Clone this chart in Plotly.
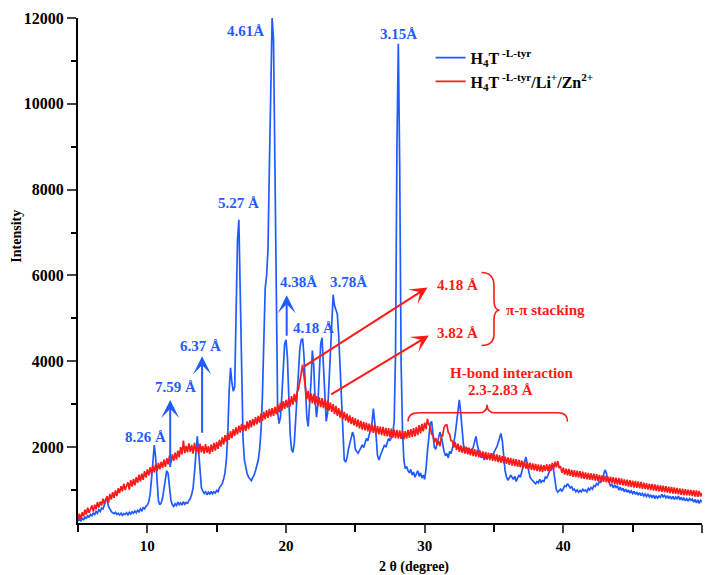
import plotly.graph_objects as go

# ---------------- data ----------------
# 2θ sampling grid of the diffractometer (0.1° steps from 5° to 50°)
two_theta = [round(5 + 0.1 * i, 1) for i in range(451)]

# H4T-L-tyr (blue), one row per degree: N.0 ... N.9
blue_y = [
    280, 330, 270, 350, 300, 380, 330, 410, 360, 430,          # 5
    400, 470, 420, 500, 460, 540, 500, 580, 560, 650,          # 6
    800, 760, 620, 540, 500, 470, 450, 480, 430, 460,          # 7
    420, 460, 410, 450, 430, 470, 420, 480, 440, 490,          # 8
    460, 510, 470, 530, 490, 560, 520, 590, 560, 620,          # 9
    650, 720, 900, 1250, 1700, 2050, 1750, 1100, 750, 660,     # 10
    700, 820, 1050, 1300, 1450, 1380, 1050, 760, 660, 620,     # 11
    680, 640, 720, 660, 700, 650, 730, 670, 710, 690,          # 12
    760, 800, 900, 1050, 1400, 1900, 2250, 1900, 1350, 1050,   # 13
    980, 920, 960, 890, 950, 900, 970, 910, 960, 930,          # 14
    990, 960, 1050, 1100, 1150, 1250, 1400, 1700, 2300, 3300,  # 15
    3850, 3500, 3300, 3400, 4800, 6800, 7300, 5500, 3300, 2200,  # 16
    1700, 1500, 1380, 1300, 1250, 1220, 1290, 1350, 1450, 1550,  # 17
    1700, 1950, 2400, 3200, 4500, 5700, 6000, 6600, 8500, 10500,  # 18
    12000, 11500, 8000, 4500, 2800, 2550, 2700, 3200, 3800, 4400,  # 19
    4500, 4100, 3200, 2300, 1950, 1880, 2100, 2700, 3400, 4000,  # 20
    4300, 4500, 4530, 4100, 3300, 2700, 2480, 2900, 3500, 4250,  # 21
    3900, 3100, 2700, 3000, 3800, 4400, 4550, 3900, 3000, 2600,  # 22
    2800, 3500, 4300, 5000, 5550, 5300, 5200, 5100, 4600, 3800,  # 23
    2900, 2200, 1700, 1650, 1750, 1950, 2100, 2200, 2350, 2250,  # 24
    1950, 1900, 1860, 1920, 2000, 2050, 1990, 2100, 2200, 2150,  # 25
    2300, 2400, 2550, 2900, 2600, 2250, 1800, 1700, 1800, 1900,  # 26
    1950, 2050, 2000, 2100, 2200, 2150, 2250, 2300, 2600, 4200,  # 27
    9000, 11400, 8500, 4000, 2400, 1700, 1500, 1550, 1450, 1400,  # 28
    1480, 1350, 1420, 1300, 1380, 1450, 1320, 1400, 1280, 1350,  # 29
    1250, 1500, 1900, 2300, 2550, 2600, 2300, 2000, 1950, 2100,  # 30
    2200, 2350, 2250, 2050, 1900, 1800, 1850, 1750, 1900, 1850,  # 31
    1950, 2100, 2300, 2600, 2950, 3100, 2800, 2300, 2050, 1950,  # 32
    1900, 1980, 1850, 1950, 1880, 2000, 2150, 2250, 2050, 1900,  # 33
    1800, 1750, 1820, 1700, 1780, 1720, 1800, 1750, 1850, 1800,  # 34
    1900, 1950, 2000, 2100, 2200, 2320, 2150, 1800, 1450, 1300,  # 35
    1230, 1280, 1350, 1300, 1250, 1320, 1200, 1280, 1350, 1300,  # 36
    1450, 1550, 1650, 1770, 1600, 1450, 1300, 1250, 1200, 1180,  # 37
    1150, 1200, 1170, 1250, 1180, 1220, 1200, 1300, 1280, 1350,  # 38
    1400, 1480, 1580, 1450, 1200, 1000, 950, 980, 1020, 970,     # 39
    1050, 1100, 1080, 1150, 1100, 1050, 1080, 1000, 1020, 960,   # 40
    1000, 950, 990, 960, 1020, 980, 1000, 960, 1040, 1000,       # 41
    1060, 1020, 1100, 1080, 1150, 1120, 1200, 1180, 1280, 1350,  # 42
    1470, 1400, 1250, 1150, 1100, 1130, 1050, 1120, 1060, 1100,  # 43
    1000, 1070, 990, 1040, 960, 1020, 950, 1000, 930, 980,       # 44
    920, 970, 900, 950, 880, 940, 870, 920, 860, 910,            # 45
    850, 900, 840, 890, 820, 880, 800, 870, 810, 860,            # 46
    830, 900, 840, 880, 820, 870, 800, 860, 790, 850,            # 47
    780, 840, 800, 860, 770, 830, 760, 820, 750, 800,            # 48
    740, 800, 760, 790, 720, 780, 700, 770, 690, 760,            # 49
    720,                                                         # 50
]

# H4T-L-tyr/Li+/Zn2+ (red)
red_y = [
    330, 450, 320, 480, 390, 540, 430, 590, 470, 560,            # 5
    640, 500, 660, 550, 720, 590, 730, 640, 800, 680,            # 6
    790, 860, 700, 910, 780, 950, 820, 990, 860, 1040,           # 7
    930, 1090, 970, 1150, 1000, 1120, 1180, 1010, 1230, 1080,    # 8
    1260, 1110, 1300, 1170, 1360, 1200, 1380, 1240, 1440, 1290,  # 9
    1480, 1340, 1530, 1380, 1570, 1410, 1600, 1440, 1630, 1480,  # 10
    1660, 1510, 1710, 1540, 1740, 1600, 1800, 1630, 1830, 1680,  # 11
    1870, 1710, 1920, 1760, 2000, 1830, 2150, 1860, 2030, 1880,  # 12
    2090, 1890, 2050, 1850, 2100, 1900, 2030, 1840, 2080, 1880,  # 13
    2030, 1850, 2070, 1870, 2020, 1840, 2060, 1890, 2100, 1920,  # 14
    2120, 1960, 2170, 2010, 2230, 2060, 2280, 2120, 2330, 2170,  # 15
    2370, 2210, 2420, 2260, 2460, 2300, 2500, 2340, 2540, 2370,  # 16
    2520, 2380, 2600, 2420, 2630, 2460, 2660, 2500, 2700, 2530,  # 17
    2730, 2570, 2780, 2610, 2820, 2650, 2860, 2680, 2890, 2710,  # 18
    2910, 2730, 2940, 2770, 3000, 2810, 3030, 2850, 3070, 2890,  # 19
    3100, 2920, 3140, 2950, 3190, 2990, 3240, 3050, 3290, 3350,  # 20
    3550, 3750, 3920, 3650, 3330, 3120, 3310, 3050, 3250, 3020,  # 21
    3240, 2990, 3190, 2960, 3160, 2930, 3140, 2910, 3120, 2870,  # 22
    3090, 2850, 3040, 2820, 3000, 2770, 2960, 2730, 2910, 2690,  # 23
    2870, 2650, 2820, 2620, 2780, 2570, 2740, 2540, 2700, 2510,  # 24
    2670, 2470, 2640, 2440, 2610, 2410, 2590, 2390, 2570, 2370,  # 25
    2550, 2350, 2530, 2330, 2510, 2310, 2490, 2300, 2480, 2280,  # 26
    2470, 2260, 2450, 2250, 2440, 2230, 2430, 2220, 2410, 2210,  # 27
    2400, 2200, 2390, 2190, 2380, 2180, 2370, 2200, 2400, 2220,  # 28
    2420, 2240, 2440, 2250, 2470, 2280, 2510, 2320, 2540, 2370,  # 29
    2570, 2420, 2660, 2530, 2480, 2300, 2280, 2120, 2210, 2050,  # 30
    2140, 2020, 2240, 2270, 2460, 2510, 2520, 2350, 2300, 2150,  # 31
    2140, 1990, 2120, 1930, 2080, 1890, 2040, 1870, 2020, 1850,  # 32
    2010, 1830, 1990, 1810, 1970, 1790, 1950, 1780, 1940, 1760,  # 33
    1920, 1750, 1900, 1730, 1890, 1710, 1870, 1700, 1860, 1680,  # 34
    1840, 1670, 1830, 1650, 1810, 1640, 1790, 1620, 1780, 1610,  # 35
    1760, 1590, 1750, 1570, 1730, 1560, 1720, 1540, 1700, 1530,  # 36
    1690, 1510, 1670, 1500, 1650, 1480, 1640, 1470, 1620, 1460,  # 37
    1610, 1440, 1600, 1430, 1590, 1420, 1580, 1450, 1600, 1440,  # 38
    1600, 1450, 1630, 1480, 1660, 1530, 1670, 1520, 1540, 1400,  # 39
    1520, 1360, 1500, 1340, 1490, 1330, 1470, 1310, 1460, 1300,  # 40
    1450, 1290, 1440, 1270, 1430, 1260, 1410, 1250, 1400, 1240,  # 41
    1390, 1230, 1380, 1220, 1370, 1210, 1350, 1200, 1340, 1190,  # 42
    1330, 1180, 1320, 1170, 1310, 1160, 1300, 1140, 1290, 1130,  # 43
    1280, 1120, 1270, 1110, 1250, 1100, 1240, 1080, 1230, 1070,  # 44
    1220, 1060, 1210, 1050, 1200, 1040, 1190, 1030, 1170, 1020,  # 45
    1160, 1010, 1150, 1000, 1140, 990, 1130, 980, 1120, 970,     # 46
    1110, 960, 1100, 950, 1090, 940, 1080, 930, 1070, 920,       # 47
    1060, 910, 1050, 900, 1040, 890, 1030, 880, 1020, 875,       # 48
    1010, 870, 1000, 860, 995, 850, 990, 840, 980, 850,          # 49
    930,                                                         # 50
]

series_names = ["H<sub>4</sub>T<sup> -L-tyr</sup>",
                "H<sub>4</sub>T<sup> -L-tyr</sup>/Li<sup>+</sup>/Zn<sup>2+</sup>"]

x_ticks = [10, 20, 30, 40, 50]
y_ticks = [2000, 4000, 6000, 8000, 10000, 12000]
y_tick_labels = ["2000", "4000", "6000", "8000", "10000", "12000"]

assert len(blue_y) == len(two_theta), len(blue_y)
assert len(red_y) == len(two_theta), len(red_y)

BLUE = "#1f5bff"
RED = "#ff1a1a"
SERIF = "Liberation Serif"

fig = go.Figure()
fig.add_trace(go.Scatter(x=two_theta, y=blue_y, mode="lines", name=series_names[0],
                         line=dict(color=BLUE, width=1.7)))
fig.add_trace(go.Scatter(x=two_theta, y=red_y, mode="lines", name=series_names[1],
                         line=dict(color=RED, width=1.7)))

# ---------------- annotations ----------------
def label(text, x, y, color, size=15):
    fig.add_annotation(x=x, y=y, text=text, showarrow=False, xref="x", yref="y",
                       font=dict(family=SERIF, size=size, color=color, weight="bold"))

label("4.61Å", 17.05, 11700, BLUE)
label("3.15Å", 28.1, 11630, BLUE)
label("5.27 Å", 16.6, 7700, BLUE)
label("4.38Å", 20.9, 5840, BLUE)
label("3.78Å", 24.5, 5840, BLUE)
label("4.18 Å", 21.95, 4770, BLUE)
label("6.37 Å", 13.8, 4350, BLUE)
label("7.59 Å", 12.0, 3400, BLUE)
label("8.26 Å", 9.85, 2230, BLUE)

label("4.18 Å", 32.4, 5770, RED)
label("3.82 Å", 32.4, 4670, RED)
label("π-π stacking", 38.7, 5190, RED)
label("H-bond interaction", 36.3, 3720, RED)
label("2.3-2.83 Å", 35.5, 3330, RED)

def arrow(x0, y0, x1, y1, color, size):
    fig.add_annotation(x=x1, y=y1, ax=x0, ay=y0, xref="x", yref="y", axref="x", ayref="y",
                       text="", showarrow=True, arrowhead=3, arrowsize=size, arrowwidth=2,
                       arrowcolor=color, standoff=0, startstandoff=0)

arrow(11.65, 1500, 11.65, 3100, BLUE, 1.5)
arrow(13.95, 2300, 13.95, 4120, BLUE, 1.5)
arrow(20.05, 4560, 20.05, 5540, BLUE, 1.5)
arrow(21.2, 3860, 30.2, 5720, RED, 1.45)
arrow(23.15, 3210, 30.3, 4600, RED, 1.45)

# braces
fig.add_shape(type="path", xref="x", yref="y",
              path="M 34.1,6070 Q 35.0,6070 35.0,5750 L 35.0,5420 Q 35.0,5190 35.4,5190 "
                   "Q 35.0,5190 35.0,4960 L 35.0,4650 Q 35.0,4370 34.1,4370",
              line=dict(color=RED, width=1.6))
fig.add_shape(type="path", xref="x", yref="y",
              path="M 28.8,2600 Q 28.8,2800 29.6,2800 L 33.9,2800 Q 34.5,2800 34.5,2990 "
                   "Q 34.5,2800 35.1,2800 L 39.6,2800 Q 40.3,2800 40.3,2600",
              line=dict(color=RED, width=1.6))

# axis titles
fig.add_annotation(text="2 θ (degree)", xref="paper", yref="paper", x=0.538, y=0, yshift=-44,
                   showarrow=False, yanchor="middle",
                   font=dict(family=SERIF, size=14, color="black", weight="bold"))
fig.add_annotation(text="Intensity", xref="paper", yref="paper", x=0, y=0.567, xshift=-61,
                   textangle=-90, showarrow=False, xanchor="center",
                   font=dict(family=SERIF, size=14, color="black", weight="bold"))

fig.update_layout(
    width=709, height=575,
    margin=dict(l=78, r=7, t=18, b=52),
    paper_bgcolor="white", plot_bgcolor="white",
    showlegend=True,
    legend=dict(x=0.565, y=0.955, xanchor="left", yanchor="top", bgcolor="rgba(0,0,0,0)",
                font=dict(family=SERIF, size=16, color="black", weight="bold"),
                tracegroupgap=2, itemwidth=30),
)
fig.update_xaxes(range=[5, 50], tickvals=x_ticks, ticks="outside", ticklen=8, tickwidth=2,
                 showline=True, linewidth=2, linecolor="black", showgrid=False, zeroline=False,
                 minor=dict(dtick=5, tick0=0, ticks="outside", ticklen=7, tickwidth=2, tickcolor="black"),
                 tickfont=dict(family=SERIF, size=15, color="black", weight="bold"))
fig.update_yaxes(range=[232, 12000], tickvals=y_ticks, ticktext=y_tick_labels, ticks="outside",
                 ticklen=9, tickwidth=2,
                 showline=True, linewidth=2, linecolor="black", showgrid=False, zeroline=False,
                 minor=dict(dtick=1000, tick0=0, ticks="outside", ticklen=5, tickwidth=2, tickcolor="black"),
                 tickfont=dict(family=SERIF, size=16, color="black", weight="bold"))

fig.write_html("out.html")
